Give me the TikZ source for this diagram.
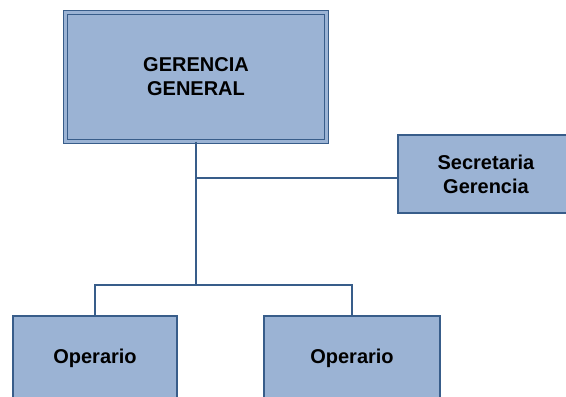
\documentclass[tikz,border=0pt]{standalone}
\usepackage{fontspec}
\setmainfont{Liberation Sans}
\usetikzlibrary{positioning,calc}

\definecolor{boxfill}{HTML}{9BB3D4}
\definecolor{boxline}{HTML}{385D8A}

\begin{document}
\begin{tikzpicture}[
  x=1pt, y=-1pt,
  unit/.style={draw=boxline, fill=boxfill, line width=1.4pt, inner sep=0pt, outer sep=0pt,
    align=center, font=\fontsize{20}{24}\selectfont\bfseries},
  headbox/.style={unit, double=boxfill, double distance=3pt, line width=1.3pt},
  link/.style={draw=boxline, line width=1.4pt}
]

\useasboundingbox (0,0) rectangle (566,397);
\clip (0,0) rectangle (566,397);

% Top: general management
\node[headbox, minimum width=261pt, minimum height=129pt] (gerencia) at (196,77) {GERENCIA\\GENERAL};

% Right: secretary
\node[unit, minimum width=176pt, minimum height=78pt] (secretaria) at (486,174) {Secretaria\\Gerencia};

% Bottom: workers
\node[unit, minimum width=164pt, minimum height=84pt] (operario1) at (95,358) {Operario};
\node[unit, minimum width=176pt, minimum height=84pt] (operario2) at (352,358) {Operario};

\coordinate (jsec) at (196,178);
\coordinate (jop) at (196,285);

\draw[link] (gerencia.south) -- (jop);
\draw[link] (jsec) -- (jsec -| secretaria.west);
\draw[link] (operario1.north) |- (jop) -| (operario2.north);

\end{tikzpicture}
\end{document}
